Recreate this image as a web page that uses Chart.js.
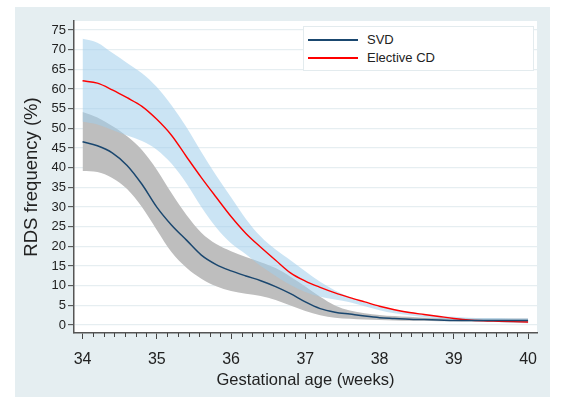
<!DOCTYPE html>
<html>
<head>
<meta charset="utf-8">
<script src="https://cdn.jsdelivr.net/npm/chart.js@4.4.1/dist/chart.umd.min.js"></script>
<style>
  body { margin: 0; background: #ffffff; }
  #wrap { position: relative; width: 563px; height: 410px; }
  #bg { position: absolute; left: 15px; top: 7px; width: 535px; height: 390px; background: #e5eef1; }
  #chart { position: absolute; left: 0; top: 0; }
  #legend {
    position: absolute; left: 303px; top: 26px; width: 229px; height: 43px;
    background: #fff; border: 1px solid #e3ebee;
    font-family: "Liberation Sans", Arial, sans-serif; font-size: 13px; color: #222;
  }
  .ln { position: absolute; left: 4px; width: 50px; height: 1.5px; }
  .tx { position: absolute; left: 63px; height: 16px; line-height: 16px; white-space: nowrap; }
</style>
</head>
<body>
<div id="wrap">
  <div id="bg"></div>
  <canvas id="chart" width="563" height="410"></canvas>
  <div id="legend">
    <div class="ln" style="top:12px; background:#1a476f"></div>
    <div class="tx" style="top:5px">SVD</div>
    <div class="ln" style="top:30px; background:#ff0000"></div>
    <div class="tx" style="top:23px">Elective CD</div>
  </div>
</div>
<script>
const weeks = [34.0, 34.2, 34.4, 34.6, 34.8, 35.0, 35.2, 35.4, 35.6, 35.8,
  36.0, 36.2, 36.4, 36.6, 36.8, 37.0, 37.2, 37.4, 37.6, 37.8,
  38.0, 38.2, 38.4, 38.6, 38.8, 39.0, 39.2, 39.4, 39.6, 39.8, 40.0];

const svd = [46.6, 45.6, 43.8, 40.6, 35.8, 30.0, 25.4, 21.6, 17.8, 15.4,
  13.8, 12.5, 11.3, 9.8, 8.0, 5.9, 4.2, 3.3, 2.8, 2.3,
  1.9, 1.7, 1.5, 1.4, 1.3, 1.2, 1.2, 1.2, 1.2, 1.2, 1.2];
const svdUpper = [54.2, 52.8, 50.6, 48.0, 44.5, 39.5, 33.5, 28.0, 23.5, 20.6,
  18.8, 17.3, 16.0, 14.5, 12.3, 9.8, 7.2, 5.0, 3.7, 3.0,
  2.6, 2.3, 2.1, 1.9, 1.8, 1.8, 1.7, 1.7, 1.7, 1.7, 1.7];
const svdLower = [39.2, 38.9, 37.4, 34.6, 30.0, 24.2, 18.5, 14.6, 11.8, 9.9,
  8.7, 8.0, 7.4, 6.4, 5.0, 3.6, 2.5, 1.9, 1.6, 1.4,
  1.3, 1.2, 1.1, 1.1, 1.0, 1.0, 0.9, 0.9, 0.8, 0.7, 0.6];

const cd = [62.1, 61.5, 59.8, 57.8, 55.6, 52.3, 48.2, 42.8, 37.5, 32.5,
  27.6, 23.3, 19.8, 16.5, 13.3, 11.2, 9.6, 8.2, 7.0, 5.9,
  4.8, 3.9, 3.2, 2.7, 2.2, 1.7, 1.3, 1.1, 1.0, 0.9, 0.8];
const cdUpper = [72.8, 71.8, 69.2, 66.6, 64.0, 60.5, 55.8, 50.3, 44.0, 38.0,
  32.5, 27.0, 22.5, 19.2, 16.5, 13.7, 11.0, 8.8, 7.1, 5.8,
  4.8, 4.0, 3.4, 2.8, 2.4, 2.1, 1.9, 1.8, 1.8, 1.7, 1.7];
const cdLower = [51.7, 51.0, 49.6, 48.2, 46.8, 44.6, 41.0, 36.0, 30.0, 24.8,
  20.8, 18.0, 15.0, 12.5, 10.2, 8.4, 7.2, 6.5, 5.8, 4.8,
  3.8, 3.0, 2.5, 2.0, 1.6, 1.3, 1.1, 0.9, 0.8, 0.6, 0.5];

const xTicks = [34, 35, 36, 37, 38, 39, 40];
const yTicks = [0, 5, 10, 15, 20, 25, 30, 35, 40, 45, 50, 55, 60, 65, 70, 75];

const FONT = '"Liberation Sans", Arial, sans-serif';

function pts(ys) {
  return weeks.map((w, i) => ({ x: w, y: ys[i] }));
}

const whiteArea = {
  id: "whiteArea",
  beforeDraw(chart) {
    const { ctx, chartArea } = chart;
    ctx.save();
    ctx.fillStyle = "#ffffff";
    ctx.fillRect(chartArea.left, chartArea.top, chartArea.right - chartArea.left, chartArea.bottom - chartArea.top);
    ctx.restore();
  },
};

// one minor tick per day
const minorTicks = {
  id: "minorTicks",
  afterDraw(chart) {
    const { ctx } = chart;
    const xs = chart.scales.x;
    ctx.save();
    ctx.strokeStyle = "#444";
    ctx.lineWidth = 1;
    for (let i = 0; i <= 42; i++) {
      if (i % 7 === 0) continue;
      const px = Math.round(xs.getPixelForValue(34 + i / 7)) + 0.5;
      ctx.beginPath();
      ctx.moveTo(px, xs.top);
      ctx.lineTo(px, xs.top + 4);
      ctx.stroke();
    }
    ctx.restore();
  },
};

new Chart(document.getElementById("chart"), {
  type: "line",
  data: {
    datasets: [
      {
        label: "SVD",
        data: pts(svd),
        borderColor: "#1a476f",
        borderWidth: 1.5,
        pointRadius: 0,
        fill: false,
        order: 0,
      },
      {
        label: "Elective CD",
        data: pts(cd),
        borderColor: "#ff0000",
        borderWidth: 1.4,
        pointRadius: 0,
        fill: false,
        order: 0,
      },
      {
        label: "CD upper",
        data: pts(cdUpper),
        borderWidth: 0,
        pointRadius: 0,
        backgroundColor: "rgba(160, 205, 235, 0.55)",
        fill: "+1",
        order: 1,
      },
      {
        label: "CD lower",
        data: pts(cdLower),
        borderWidth: 0,
        pointRadius: 0,
        fill: false,
        order: 1,
      },
      {
        label: "SVD upper",
        data: pts(svdUpper),
        borderWidth: 0,
        pointRadius: 0,
        backgroundColor: "#bebebe",
        fill: "+1",
        order: 2,
      },
      {
        label: "SVD lower",
        data: pts(svdLower),
        borderWidth: 0,
        pointRadius: 0,
        fill: false,
        order: 2,
      },
    ],
  },
  options: {
    responsive: false,
    animation: false,
    cubicInterpolationMode: "monotone",
    layout: { padding: { left: 0, top: 21, right: 26, bottom: 0 } },
    plugins: {
      legend: { display: false },
      tooltip: { enabled: false },
    },
    scales: {
      x: {
        type: "linear",
        min: 33.885,
        max: 40.12,
        afterBuildTicks: (s) => { s.ticks = xTicks.map((v) => ({ value: v })); },
        afterFit: (s) => { s.height = 77; },
        ticks: {
          color: "#222",
          font: { family: FONT, size: 16 },
          padding: 11,
          maxRotation: 0,
        },
        grid: { drawOnChartArea: false, tickLength: 6, tickColor: "#444", tickWidth: 1 },
        border: { display: true, color: "#555", width: 1.5 },
        title: {
          display: true,
          text: "Gestational age (weeks)",
          color: "#222",
          font: { family: FONT, size: 16.5 },
          padding: { top: 20, bottom: 20 },
        },
      },
      y: {
        min: -2,
        max: 77.3,
        afterBuildTicks: (s) => { s.ticks = yTicks.map((v) => ({ value: v })); },
        afterFit: (s) => { s.width = 74; },
        ticks: {
          color: "#222",
          font: { family: FONT, size: 13 },
          padding: 2,
        },
        grid: { color: "#e6eef1", lineWidth: 1.3, tickLength: 6, tickColor: "#444", tickWidth: 1 },
        border: { display: true, color: "#555", width: 1.5 },
        title: {
          display: true,
          text: "RDS frequency (%)",
          color: "#222",
          font: { family: FONT, size: 18.5 },
          padding: { top: 21, bottom: 0 },
        },
      },
    },
  },
  plugins: [whiteArea, minorTicks],
});
</script>
</body>
</html>
